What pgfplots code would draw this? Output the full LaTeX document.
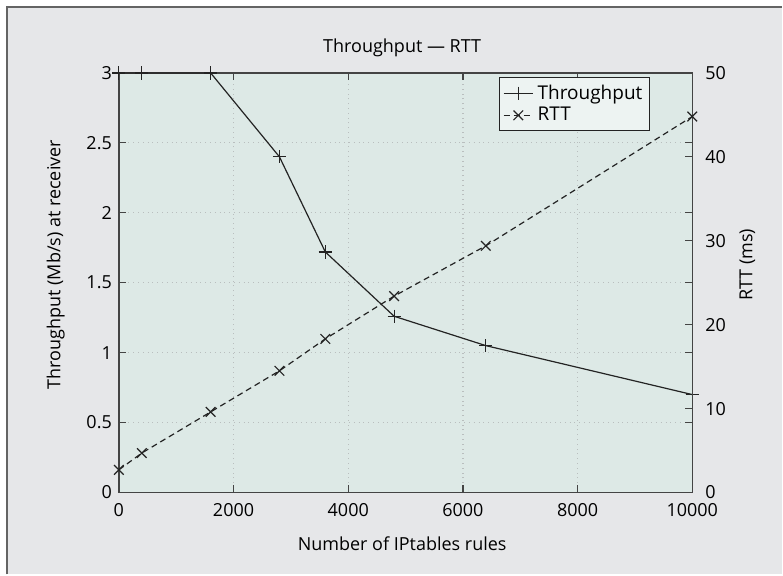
\documentclass[border=0pt]{standalone}
\usepackage{fontspec}
\setmainfont{Open Sans}
\usepackage{pgfplots}
\pgfplotsset{compat=1.18}

\definecolor{pagegray}{RGB}{230,231,233}
\definecolor{framegray}{RGB}{100,100,100}
\definecolor{plotbg}{RGB}{221,233,230}
\definecolor{legbg}{RGB}{237,243,242}
\definecolor{gridgray}{RGB}{185,190,190}
\definecolor{ink}{RGB}{35,35,35}

\begin{document}
\begin{tikzpicture}
  % page background and frame
  \fill[white] (-59.5pt,-41pt) rectangle (332pt,246.5pt);
  \fill[pagegray] (-56pt,-41pt) rectangle (332pt,243pt);
  \draw[framegray, line width=0.8pt] (-56pt,-41pt) -- (-56pt,243pt) -- (332pt,243pt);
  \useasboundingbox (-59.5pt,-41pt) rectangle (332pt,246.5pt);

  \pgfplotsset{
    every axis/.append style={
      font=\fontsize{9}{11}\selectfont,
      /pgf/number format/assume math mode=true,
      scale only axis, width=287pt, height=210pt,
      xmin=0, xmax=10000,
      axis line style={ink!85, line width=0.7pt},
      major tick style={ink!85, line width=0.6pt},
      tick align=inside,
      major tick length=3.5pt,
    },
  }

  % left axis: throughput
  \begin{axis}[
      ymin=0, ymax=3,
      xtick={0,2000,...,10000},
      ytick={0,0.5,...,3},
      scaled x ticks=false,
      xticklabel style={/pgf/number format/1000 sep={}, yshift=-2pt},
      grid=major,
      major grid style={gridgray, dotted, line width=0.6pt},
      axis background/.style={fill=plotbg},
      title={Throughput — RTT},
      every axis title shift=0pt,
      title style={at={(axis description cs:0.494,1.06)}, anchor=center},
      xlabel={Number of IPtables rules},
      xlabel style={at={(axis description cs:0.494,-0.121)}, anchor=center},
      ylabel={Throughput (Mb/s) at receiver},
      ylabel style={at={(axis description cs:-0.11,0.543)}, anchor=center},
      legend style={at={(0.926,0.99)}, anchor=north east, fill=legbg,
        draw=ink, line width=0.5pt, font=\fontsize{9.5}{10}\selectfont,
        inner sep=1.5pt, row sep=-1.5pt},
      legend cell align=left,
      legend image code/.code={%
        \draw[mark repeat=2, mark phase=2, #1]
          plot coordinates {(0cm,0cm) (0.26cm,0cm) (0.52cm,0cm)};},
    ]
    \addplot[ink, line width=0.6pt, mark=+, mark size=3.3pt] coordinates {
      (0,3) (400,3) (1600,3) (2800,2.40) (3600,1.72)
      (4800,1.26) (6400,1.05) (10000,0.70)
    };
    \addlegendentry{Throughput}
    \addlegendimage{ink, line width=0.6pt, dash pattern=on 3pt off 2pt, mark=x, mark size=3.4pt, mark options={solid}}
    \addlegendentry{RTT}
  \end{axis}

  % right axis: RTT
  \begin{axis}[
      ymin=0, ymax=50,
      ytick={0,10,...,50},
      axis x line=none,
      axis y line*=right,
      ylabel={RTT (ms)},
      ylabel style={at={(axis description cs:1.096,0.543)}, anchor=center, rotate=0},
      yticklabel style={xshift=3pt},
    ]
    \addplot[ink, line width=0.6pt, dash pattern=on 3pt off 2pt, mark=x, mark size=3.4pt, mark options={solid}] coordinates {
      (0,2.7) (400,4.7) (1600,9.6) (2800,14.5) (3600,18.3)
      (4800,23.4) (6400,29.4) (10000,44.8)
    };
  \end{axis}
\end{tikzpicture}
\end{document}
